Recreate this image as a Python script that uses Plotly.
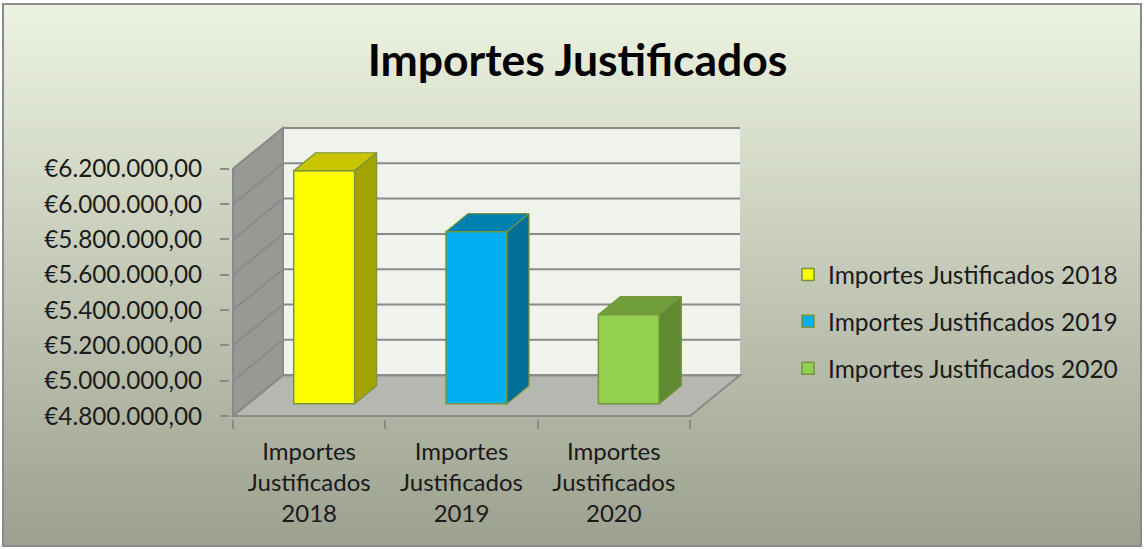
import plotly.graph_objects as go

# ---------------- data ----------------
CATEGORIES = ["Importes Justificados 2018", "Importes Justificados 2019", "Importes Justificados 2020"]
CATEGORY_LABELS = ["Importes<br>Justificados<br>2018", "Importes<br>Justificados<br>2019", "Importes<br>Justificados<br>2020"]
SERIES_NAMES = ["Importes Justificados 2018", "Importes Justificados 2019", "Importes Justificados 2020"]
VALUES = [6120000, 5775000, 5305000]
TICK_VALUES = [4800000, 5000000, 5200000, 5400000, 5600000, 5800000, 6000000, 6200000]
TICK_LABELS = ["€4.800.000,00", "€5.000.000,00", "€5.200.000,00", "€5.400.000,00",
               "€5.600.000,00", "€5.800.000,00", "€6.000.000,00", "€6.200.000,00"]
TITLE = "Importes Justificados"

# ---------------- style ----------------
FRONT_COLORS = ["#ffff00", "#00b0f0", "#92d050"]
TOP_COLORS = ["#c8c400", "#0081b0", "#6f9e3b"]
SIDE_COLORS = ["#a3a300", "#006f98", "#5f8a32"]
OUTLINE = "#77933c"
EDGE = "#8a8a8a"
FONT = "Lato"

W, H = 1144, 549
FRONT_LEFT, FRONT_WIDTH = 233, 457
FRONT_BOTTOM, FRONT_HEIGHT = 416.5, 248
DEPTH_DX, DEPTH_DY = 50, 41
PAD = 3
BAR_WIDTH = 0.40
BAR_FRONT = 0.30   # depth fraction where the bar front face sits
BAR_DEPTH = 0.44   # depth fraction of the bar

n = len(CATEGORIES)
y_min, y_max = TICK_VALUES[0], TICK_VALUES[-1]
cat_px = FRONT_WIDTH / n
val_px = FRONT_HEIGHT / (y_max - y_min)
DX = DEPTH_DX / cat_px
DY = DEPTH_DY / val_px

x_range = [-0.5 - PAD / cat_px, n - 0.5 + DX + PAD / cat_px]
y_range = [y_min - PAD / val_px, y_max + DY + PAD / val_px]
plot_l = FRONT_LEFT - PAD
plot_r = FRONT_LEFT + FRONT_WIDTH + DEPTH_DX + PAD
plot_b = FRONT_BOTTOM + PAD
plot_t = FRONT_BOTTOM - FRONT_HEIGHT - DEPTH_DY - PAD


def px_x(px):
    return (px - plot_l) / (plot_r - plot_l)


def px_y(py):
    return (plot_b - py) / (plot_b - plot_t)


def path(points):
    return "M " + " L ".join(f"{x},{y}" for x, y in points) + " Z"


shapes = []
# background gradient
top_rgb = (236, 242, 224)
bot_rgb = (157, 161, 143)
bands = 60
y_top_px, y_bot_px = 4, 546
for k in range(bands):
    t = k / (bands - 1)
    c = tuple(round(top_rgb[i] + (bot_rgb[i] - top_rgb[i]) * t) for i in range(3))
    ya = y_top_px + (y_bot_px - y_top_px) * k / bands
    yb = y_top_px + (y_bot_px - y_top_px) * (k + 1) / bands + 0.6
    shapes.append(dict(type="rect", xref="paper", yref="paper", layer="below",
                       x0=px_x(4), x1=px_x(1140), y0=px_y(ya), y1=px_y(yb),
                       fillcolor=f"rgb{c}", line=dict(width=0)))
shapes.append(dict(type="rect", xref="paper", yref="paper", layer="below",
                   x0=px_x(3), x1=px_x(1141), y0=px_y(3), y1=px_y(547),
                   fillcolor="rgba(0,0,0,0)", line=dict(color="#8c8c8c", width=2)))

x_lo, x_hi = -0.5, n - 0.5
# back wall
shapes.append(dict(type="path", xref="x", yref="y", layer="below",
                   path=path([(x_lo + DX, y_min + DY), (x_hi + DX, y_min + DY),
                              (x_hi + DX, y_max + DY), (x_lo + DX, y_max + DY)]),
                   fillcolor="#eff3ec", line=dict(width=0)))
# left wall
shapes.append(dict(type="path", xref="x", yref="y", layer="below",
                   path=path([(x_lo, y_min), (x_lo, y_max), (x_lo + DX, y_max + DY), (x_lo + DX, y_min + DY)]),
                   fillcolor="#979a94", line=dict(color=EDGE, width=2)))
# floor
shapes.append(dict(type="path", xref="x", yref="y", layer="below",
                   path=path([(x_lo, y_min), (x_hi, y_min), (x_hi + DX, y_min + DY), (x_lo + DX, y_min + DY)]),
                   fillcolor="#b5b8b0", line=dict(color=EDGE, width=2)))
# gridlines
for v in TICK_VALUES:
    shapes.append(dict(type="path", xref="x", yref="y", layer="below",
                       path=f"M {x_lo},{v} L {x_lo + DX},{v + DY} L {x_hi + DX},{v + DY}",
                       line=dict(color=EDGE, width=2)))

fig = go.Figure()
for i, (name, v) in enumerate(zip(SERIES_NAMES, VALUES)):
    xc = i + BAR_FRONT * DX
    base = y_min + BAR_FRONT * DY
    top = v + BAR_FRONT * DY
    xl, xr = xc - BAR_WIDTH / 2, xc + BAR_WIDTH / 2
    ddx, ddy = BAR_DEPTH * DX, BAR_DEPTH * DY
    fig.add_trace(go.Bar(x=[xc], y=[v - y_min], base=[base], width=[BAR_WIDTH], name=name,
                         legendgroup=name, marker=dict(color=FRONT_COLORS[i], line=dict(color=OUTLINE, width=1.5)),
                         customdata=[v], hovertemplate="%{customdata:,.0f}<extra>" + name + "</extra>"))
    # side face
    fig.add_trace(go.Scatter(x=[xr, xr, xr + ddx, xr + ddx, xr], y=[base, top, top + ddy, base + ddy, base],
                             mode="lines", fill="toself", fillcolor=SIDE_COLORS[i],
                             line=dict(color=OUTLINE, width=1.2), legendgroup=name,
                             showlegend=False, hoverinfo="skip"))
    # top face
    fig.add_trace(go.Scatter(x=[xl, xr, xr + ddx, xl + ddx, xl], y=[top, top, top + ddy, top + ddy, top],
                             mode="lines", fill="toself", fillcolor=TOP_COLORS[i],
                             line=dict(color=OUTLINE, width=1.2), legendgroup=name,
                             showlegend=False, hoverinfo="skip"))

fig.update_layout(
    width=W, height=H,
    margin=dict(l=plot_l, r=W - plot_r, t=plot_t, b=H - plot_b, autoexpand=False),
    paper_bgcolor="white", plot_bgcolor="rgba(0,0,0,0)",
    barmode="overlay",
    shapes=shapes,
    font=dict(family=FONT, color="#1a1a1a"),
    title=dict(text=TITLE, x=577.5 / W, xref="container", xanchor="center",
               y=1 - 60 / H, yref="container", yanchor="middle",
               font=dict(family=FONT, size=44.5, color="#000000", weight="bold")),
    xaxis=dict(range=x_range, tickvals=list(range(n)), ticktext=CATEGORY_LABELS, ticks="",
               showgrid=False, zeroline=False, showline=False, fixedrange=True,
               tickfont=dict(size=24, color="#1a1a1a"), ticklabelstandoff=16,
               minor=dict(tickvals=[k - 0.5 for k in range(n + 1)], ticks="outside", ticklen=9,
                          tickwidth=2, tickcolor=EDGE, showgrid=False)),
    yaxis=dict(range=y_range, tickvals=TICK_VALUES, ticktext=TICK_LABELS, ticks="outside",
               ticklen=9, tickwidth=2, tickcolor=EDGE, showgrid=False, zeroline=False,
               showline=False, fixedrange=True, tickfont=dict(size=24.3, color="#1a1a1a"),
               ticklabelstandoff=13),
    legend=dict(x=px_x(788), y=px_y(252), xanchor="left", yanchor="top",
                bgcolor="rgba(0,0,0,0)", font=dict(size=24.5, color="#1a1a1a"),
                tracegroupgap=12, itemclick=False, itemdoubleclick=False),
    showlegend=True,
)

fig.write_html("out.html", config={"displayModeBar": False},
               post_script="document.body.style.margin='0';")
